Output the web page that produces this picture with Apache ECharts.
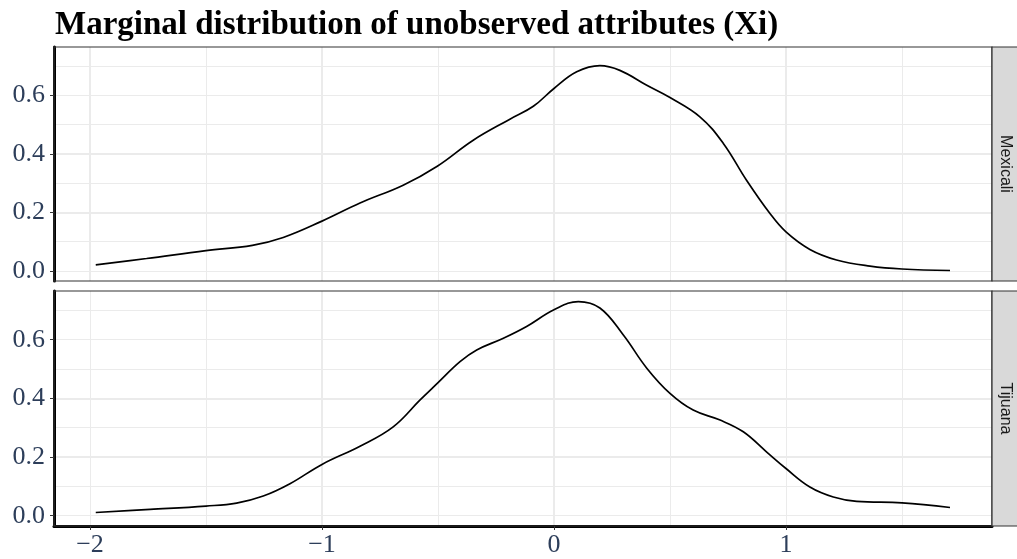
<!DOCTYPE html>
<html>
<head>
<meta charset="utf-8">
<script src="https://cdn.jsdelivr.net/npm/echarts@6/dist/echarts.min.js"></script>
<style>
  html, body { margin: 0; padding: 0; background: #ffffff; }
  #chart { width: 1017px; height: 559px; }
</style>
</head>
<body>
<div id="chart"></div>
<script>
// Kernel density estimates of the unobserved attribute Xi, one panel per city
const panelNames = ['Mexicali', 'Tijuana'];

const mexicaliX = [-1.975, -1.756, -1.5, -1.3, -1.167, -1.0, -0.836, -0.65, -0.503, -0.348, -0.19, -0.089, 0.0, 0.098, 0.198, 0.284, 0.4, 0.5, 0.629, 0.73, 0.83, 0.931, 1.0, 1.103, 1.218, 1.362, 1.5, 1.707];
const mexicaliY = [0.020, 0.042, 0.069, 0.087, 0.114, 0.170, 0.232, 0.293, 0.358, 0.447, 0.519, 0.563, 0.624, 0.681, 0.702, 0.686, 0.635, 0.593, 0.527, 0.436, 0.310, 0.196, 0.133, 0.073, 0.037, 0.016, 0.006, 0.001];

const tijuanaX = [-1.975, -1.741, -1.5, -1.368, -1.253, -1.138, -1.0, -0.836, -0.693, -0.578, -0.503, -0.405, -0.333, -0.218, -0.118, 0.0, 0.105, 0.198, 0.299, 0.4, 0.5, 0.6, 0.716, 0.816, 0.917, 1.0, 1.103, 1.204, 1.305, 1.5, 1.707];
const tijuanaY = [0.011, 0.0215, 0.033, 0.043, 0.067, 0.109, 0.175, 0.237, 0.303, 0.394, 0.451, 0.525, 0.565, 0.605, 0.645, 0.702, 0.730, 0.708, 0.616, 0.503, 0.417, 0.360, 0.326, 0.286, 0.217, 0.161, 0.098, 0.064, 0.049, 0.044, 0.028];

const xTickValues = [-2, -1, 0, 1];
const yTickValues = [0.0, 0.2, 0.4, 0.6];

const X_MIN = -2.155, X_MAX = 1.888;
const Y_MIN = -0.035, Y_MAX = 0.766;

const SERIF = "'Liberation Serif', 'DejaVu Serif', serif";
const LABEL_COLOR = '#2d3e5a';
const GRID_COLOR = '#ebebeb';

const pairs = (xs, ys) => xs.map((x, i) => [x, ys[i]]);
const near = (v, list) => list.some(t => Math.abs(v - t) < 1e-6);

const panels = [
  { top: 47, height: 234 },
  { top: 291, height: 235 }
];

const grids = panels.map(p => ({
  left: 54, right: 25, top: p.top, height: p.height,
  show: false, containLabel: false
}));

const xAxes = [];
const yAxes = [];
panels.forEach((p, g) => {
  const isBottom = g === panels.length - 1;
  // main x axis: integer grid lines, labels on the bottom panel only
  xAxes.push({
    type: 'value', gridIndex: g, min: X_MIN, max: X_MAX, splitNumber: 4,
    axisLine: { show: isBottom, onZero: false, lineStyle: { color: '#000', width: 3 } },
    axisTick: { show: isBottom, length: 4, lineStyle: { color: '#333', width: 1 },
      customValues: isBottom ? xTickValues : undefined },
    axisLabel: {
      show: isBottom, margin: 6, fontFamily: SERIF, fontSize: 26, color: LABEL_COLOR,
      customValues: isBottom ? xTickValues : undefined,
      formatter: v => near(v, xTickValues) ? String(Math.round(v)).replace('-', '\u2212') : ''
    },
    splitLine: { show: true, showMinLine: false, showMaxLine: false, lineStyle: { color: GRID_COLOR, width: 2 } },
    z: 3
  });
  // half-unit x grid lines
  xAxes.push({
    type: 'value', gridIndex: g, min: X_MIN, max: X_MAX, splitNumber: 8,
    axisLine: { show: false }, axisTick: { show: false }, axisLabel: { show: false },
    splitLine: { show: true, showMinLine: false, showMaxLine: false, lineStyle: { color: GRID_COLOR, width: 1 } },
    z: 1
  });
  yAxes.push({
    type: 'value', gridIndex: g, min: Y_MIN, max: Y_MAX, splitNumber: 4, position: 'left',
    axisLine: { show: true, onZero: false, lineStyle: { color: '#000', width: 3 } },
    axisTick: { show: true, length: 4, customValues: yTickValues, lineStyle: { color: '#333', width: 1 } },
    axisLabel: {
      show: true, margin: 9, fontFamily: SERIF, fontSize: 26, color: LABEL_COLOR,
      customValues: yTickValues,
      formatter: v => near(v, yTickValues) ? v.toFixed(1) : ''
    },
    splitLine: { show: true, showMinLine: false, showMaxLine: false, lineStyle: { color: GRID_COLOR, width: 2 } },
    z: 3
  });
  yAxes.push({
    type: 'value', gridIndex: g, min: Y_MIN, max: Y_MAX, splitNumber: 8, position: 'left',
    axisLine: { show: false }, axisTick: { show: false }, axisLabel: { show: false },
    splitLine: { show: true, showMinLine: false, showMaxLine: false, lineStyle: { color: GRID_COLOR, width: 1 } },
    z: 1
  });
});

const curves = [pairs(mexicaliX, mexicaliY), pairs(tijuanaX, tijuanaY)];

const series = curves.map((data, g) => ({
  type: 'line', name: panelNames[g],
  xAxisIndex: g * 2, yAxisIndex: g * 2,
  data: data, smooth: 0.4, showSymbol: false, silent: true,
  lineStyle: { color: '#000', width: 1.7 },
  z: 5
}));

// panel borders and facet strips on the right
const graphics = [];
panels.forEach((p, g) => {
  graphics.push({
    type: 'rect', z: 10, silent: true,
    shape: { x: 54, y: p.top, width: 938, height: p.height },
    style: { fill: 'none', stroke: '#333', lineWidth: 1.2 }
  });
  graphics.push({
    type: 'rect', z: 10, silent: true,
    shape: { x: 992, y: p.top, width: 30, height: p.height },
    style: { fill: '#d9d9d9', stroke: '#333', lineWidth: 1.2 }
  });
  graphics.push({
    type: 'text', z: 11, silent: true,
    x: 1005, y: p.top + p.height / 2, rotation: -Math.PI / 2,
    style: {
      text: panelNames[g], fill: '#1a1a1a',
      font: "16px 'Liberation Sans', Arial, sans-serif",
      align: 'center', verticalAlign: 'middle'
    }
  });
});

const chart = echarts.init(document.getElementById('chart'), null, { renderer: 'canvas' });
chart.setOption({
  animation: false,
  backgroundColor: '#ffffff',
  title: {
    text: 'Marginal distribution of unobserved attributes (Xi)',
    left: 50, top: 4,
    textStyle: { fontFamily: SERIF, fontWeight: 'bold', fontSize: 33, color: '#000' }
  },
  grid: grids,
  xAxis: xAxes,
  yAxis: yAxes,
  series: series,
  graphic: graphics
});
</script>
</body>
</html>
